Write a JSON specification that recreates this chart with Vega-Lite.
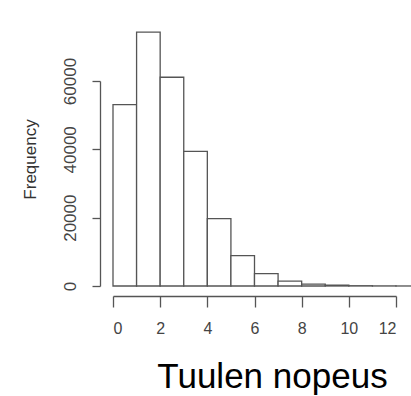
{
  "$schema": "https://vega.github.io/schema/vega-lite/v6.json",
  "autosize": {"type": "none"},
  "width": 283,
  "height": 205,
  "padding": {"left": 113, "top": 81, "right": 15, "bottom": 110},
  "background": "white",
  "config": {
    "view": {"stroke": null},
    "font": "Liberation Sans",
    "axis": {
      "grid": false,
      "domainColor": "#555",
      "domainWidth": 1.3,
      "tickColor": "#555",
      "tickWidth": 1.3,
      "labelColor": "#444",
      "labelFont": "Liberation Sans",
      "labelFontSize": 17,
      "titleFont": "Liberation Sans",
      "titleFontWeight": "normal"
    }
  },
  "data": {
    "values": [
      {"x0": 0, "x1": 1, "count": 53100},
      {"x0": 1, "x1": 2, "count": 74300},
      {"x0": 2, "x1": 3, "count": 61100},
      {"x0": 3, "x1": 4, "count": 39400},
      {"x0": 4, "x1": 5, "count": 19700},
      {"x0": 5, "x1": 6, "count": 8900},
      {"x0": 6, "x1": 7, "count": 3600},
      {"x0": 7, "x1": 8, "count": 1400},
      {"x0": 8, "x1": 9, "count": 550},
      {"x0": 9, "x1": 10, "count": 250},
      {"x0": 10, "x1": 11, "count": 80},
      {"x0": 11, "x1": 12, "count": 30},
      {"x0": 12, "x1": 13, "count": 10},
      {"x0": 13, "x1": 14, "count": 5}
    ]
  },
  "mark": {"type": "bar", "fill": "white", "stroke": "#555", "strokeWidth": 1.3, "clip": false},
  "encoding": {
    "x": {
      "field": "x0",
      "type": "quantitative",
      "scale": {"domain": [0, 12], "nice": false, "zero": false},
      "axis": {
        "values": [0, 2, 4, 6, 8, 10, 12],
        "format": "d",
        "offset": 10,
        "tickSize": 11,
        "labelPadding": 13,
        "labelFontSize": 16,
        "labelAngle": 0,
        "title": "Tuulen nopeus",
        "titleFontSize": 35,
        "titleColor": "#000",
        "titleX": 159,
        "titleY": 91,
        "titleAlign": "center",
        "titleBaseline": "alphabetic"
      }
    },
    "x2": {"field": "x1"},
    "y": {
      "field": "count",
      "type": "quantitative",
      "scale": {"domain": [0, 60000], "nice": false},
      "axis": {
        "values": [0, 20000, 40000, 60000],
        "format": "d",
        "offset": 13,
        "tickSize": 8,
        "labelAngle": -90,
        "labelAlign": "center",
        "labelBaseline": "middle",
        "labelPadding": 22,
        "title": "Frequency",
        "titleFontSize": 17,
        "titleColor": "#333",
        "titleAngle": -90,
        "titleX": -70,
        "titleY": 78,
        "titleAlign": "center",
        "titleBaseline": "middle"
      }
    },
    "y2": {"datum": 0}
  }
}
